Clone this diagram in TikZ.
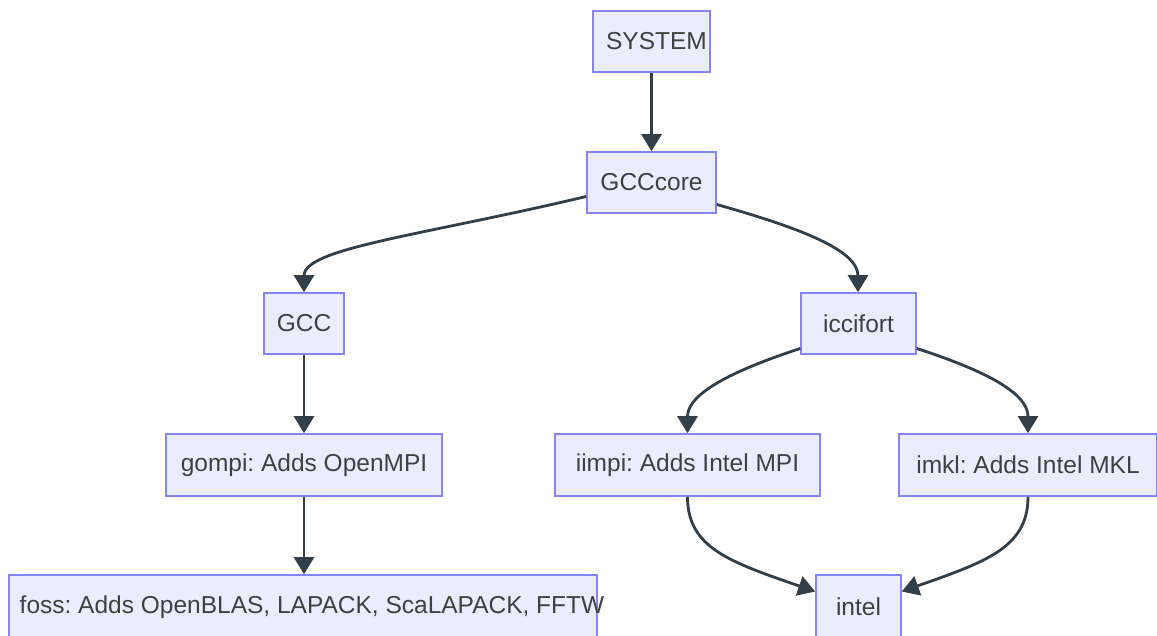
\documentclass[tikz,border=0pt]{standalone}
\usepackage{fontspec}
\setmainfont{Liberation Sans}
\usetikzlibrary{arrows.meta}
\definecolor{boxfill}{HTML}{ECECFF}
\definecolor{boxline}{HTML}{8585F5}
\definecolor{edgec}{HTML}{333F48}
\definecolor{txt}{HTML}{404040}
\frenchspacing
\begin{document}
\begin{tikzpicture}[x=1pt,y=-1pt,
  box/.style={draw=boxline,fill=boxfill,line width=1.6pt,inner sep=0pt,text=txt,
    font=\fontsize{24.5pt}{29pt}\selectfont},
  edge/.style={draw=edgec,line width=2.8pt,-{Triangle[length=17pt,width=20pt]}}]
\useasboundingbox[fill=white] (0,0) rectangle (1157,635);
\node[box,minimum width=117pt,minimum height=61pt] (sys) at (651.5,41.5) {\hspace*{10pt}SYSTEM};
\node[box,minimum width=129pt,minimum height=61pt] (core) at (651.5,182.5) {GCCcore};
\node[box,minimum width=80pt,minimum height=61pt] (gcc) at (304,323.5) {GCC};
\node[box,minimum width=115pt,minimum height=61pt] (icc) at (858.5,323.5) {iccifort};
\node[box,minimum width=276pt,minimum height=62pt] (gompi) at (304,465) {gompi: Adds OpenMPI};
\node[box,minimum width=265pt,minimum height=62pt] (iimpi) at (687.5,465) {iimpi: Adds Intel MPI};
\node[box,minimum width=258pt,minimum height=62pt] (imkl) at (1028,465) {imkl: Adds Intel MKL};
\node[box,minimum width=588pt,minimum height=64pt] (foss) at (303,607) {\makebox[560pt][c]{\hspace*{18pt}foss: Adds OpenBLAS, LAPACK, ScaLAPACK, FFTW}};
\node[box,minimum width=85pt,minimum height=64pt] (intel) at (858.5,607) {intel};

\draw[edge] (sys.south) -- (core.north);
\draw[edge] ([yshift=-14pt]core.west) .. controls (420,236) and (304,248) .. (gcc.north);
\draw[edge] ([yshift=-22pt]core.east) .. controls (800,228) and (858,250) .. ([xshift=-0.5pt]icc.north);
\draw[edge] (gcc.south) -- (gompi.north);
\draw[edge] ([yshift=-25pt]icc.west) .. controls (710,378) and (687.5,400) .. (iimpi.north);
\draw[edge] ([yshift=-25pt]icc.east) .. controls (1008,378) and (1028,400) .. (imkl.north);
\draw[edge] (gompi.south) -- ([xshift=1pt]foss.north);
\draw[edge] (iimpi.south) .. controls (687.5,548) and (730,562) .. ([yshift=15.5pt]intel.west);
\draw[edge] (imkl.south) .. controls (1028,548) and (985,562) .. ([yshift=15.5pt]intel.east);
\end{tikzpicture}
\end{document}
